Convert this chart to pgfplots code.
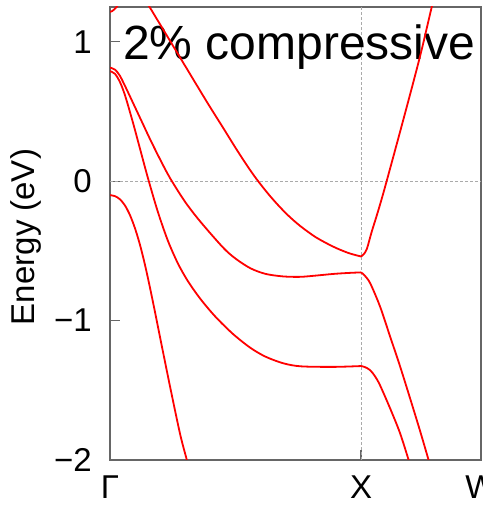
\documentclass[border=0pt]{standalone}
\usepackage{fontspec}
\setmainfont{Liberation Sans}
\usepackage{pgfplots}
\pgfplotsset{compat=1.18}
\definecolor{axgray}{HTML}{666666}
\definecolor{gridgray}{HTML}{AAAAAA}
\begin{document}
\begin{tikzpicture}
\useasboundingbox (0,0) rectangle (482pt,505pt);
\begin{axis}[
  at={(110pt,45pt)}, anchor=south west,
  scale only axis, width=371pt, height=453pt,
  xmin=0, xmax=1.478, ymin=-2, ymax=1.25,
  xtick={0,1,1.478}, xticklabels={Γ,X,W},
  ytick={-2,-1,0,1}, yticklabels={−2,−1,0,1},
  tick pos=left, tick align=inside,
  major tick length=10pt,
  axis line style={draw=axgray, line width=1.2pt},
  every tick/.style={draw=axgray, line width=1.2pt},
  ticklabel style={font=\fontsize{33}{33}\selectfont, inner sep=0pt},
  yticklabel style={anchor=east, xshift=-18pt},
  xticklabel style={anchor=north, yshift=-16pt},
  clip=true,
  band/.style={red, line width=1.8pt, smooth, tension=0.5, no markers, solid},
]
\addplot[gridgray, line width=1pt, dash pattern=on 3pt off 2pt, no markers] coordinates {(0,0) (1.478,0)};
\addplot[gridgray, line width=1pt, dash pattern=on 3pt off 2pt, no markers] coordinates {(1,-2) (1,1.25)};
\node[anchor=base west, inner sep=0pt, font=\fontsize{48}{48}\selectfont] at (rel axis cs:0.035,0.885) {2\% compressive};
% corner band
\addplot[band] coordinates {(0,1.215) (0.01,1.222) (0.027,1.252) (0.04,1.29)};
% band A
\addplot[band] coordinates {
(0.13,1.33) (0.157,1.252) (0.27,0.915) (0.385,0.572) (0.45,0.385) (0.5,0.24) (0.545,0.115)
(0.584,0.015) (0.63,-0.09) (0.67,-0.172) (0.71,-0.246) (0.757,-0.32) (0.82,-0.402)
(0.89,-0.47) (0.95,-0.515) (1.0,-0.54)};
\addplot[band] coordinates {
(1.0,-0.54) (1.01,-0.525) (1.023,-0.487) (1.042,-0.366) (1.062,-0.25) (1.082,-0.129) (1.102,0.0)
(1.155,0.351) (1.208,0.708) (1.242,0.946) (1.282,1.252) (1.30,1.37)};
% band B
\addplot[band] coordinates {
(0,0.815) (0.02,0.80) (0.04,0.755) (0.07,0.645) (0.10,0.53) (0.13,0.415) (0.16,0.30)
(0.2,0.155) (0.24,0.02) (0.3,-0.15) (0.36,-0.29) (0.45,-0.475) (0.5,-0.555) (0.56,-0.625)
(0.62,-0.665) (0.69,-0.683) (0.757,-0.686) (0.82,-0.677) (0.89,-0.665) (0.95,-0.658) (1.0,-0.654)};
\addplot[band] coordinates {
(1.0,-0.654) (1.012,-0.672) (1.036,-0.73) (1.076,-0.9) (1.116,-1.115) (1.155,-1.325)
(1.195,-1.555) (1.235,-1.79) (1.268,-1.993) (1.28,-2.07)};
% band C
\addplot[band] coordinates {
(0,0.79) (0.02,0.77) (0.04,0.71) (0.06,0.615) (0.09,0.43) (0.12,0.23) (0.15,0.03) (0.19,-0.216)
(0.23,-0.424) (0.27,-0.588) (0.31,-0.716) (0.36,-0.844) (0.42,-0.972) (0.49,-1.096)
(0.56,-1.196) (0.62,-1.259) (0.69,-1.306) (0.76,-1.328) (0.89,-1.332) (1.0,-1.326)};
\addplot[band] coordinates {
(1.0,-1.326) (1.015,-1.333) (1.036,-1.355) (1.056,-1.40) (1.076,-1.465) (1.116,-1.63)
(1.155,-1.805) (1.188,-1.99) (1.2,-2.06)};
% band E
\addplot[band] coordinates {
(0,-0.10) (0.02,-0.107) (0.04,-0.13) (0.06,-0.175) (0.08,-0.245) (0.10,-0.34) (0.12,-0.46)
(0.14,-0.605) (0.16,-0.77) (0.18,-0.945) (0.20,-1.125) (0.24,-1.48) (0.28,-1.82) (0.306,-2.0) (0.32,-2.12)};
\end{axis}
\node[rotate=90, inner sep=0pt, font=\fontsize{33}{33}\selectfont] at (26pt,268pt) {Energy (eV)};
\end{tikzpicture}
\end{document}
